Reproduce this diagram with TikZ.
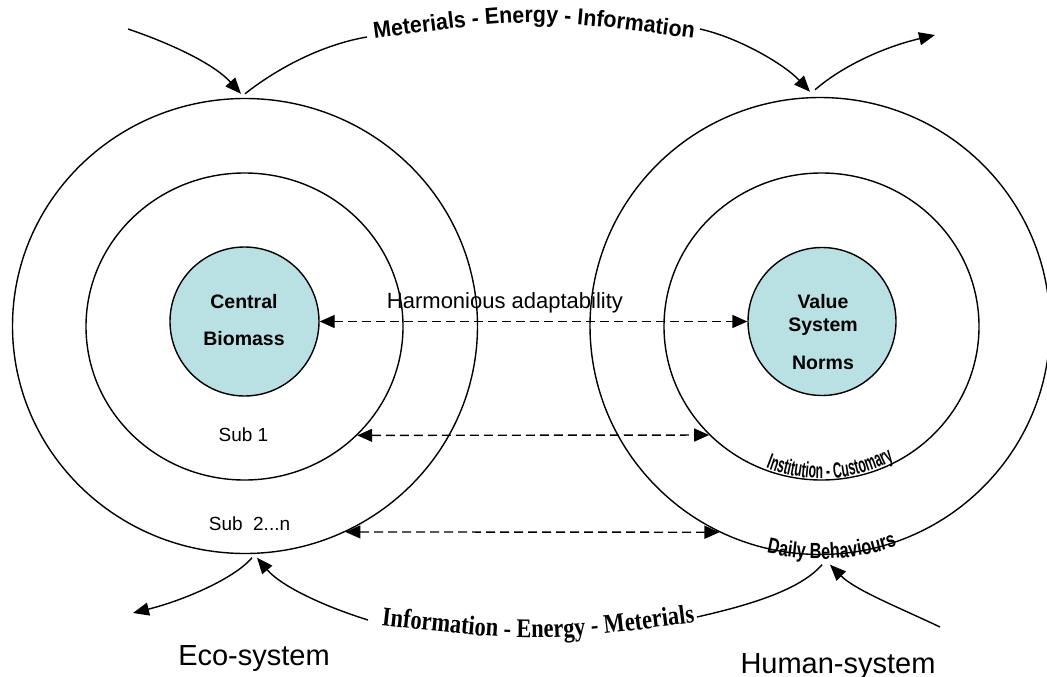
\documentclass[tikz,border=0pt]{standalone}
\usepackage{fontspec}
\setmainfont{Liberation Sans}
\newfontfamily\topfont{Liberation Sans}[FakeStretch=0.93]
\newfontfamily\botfont{Liberation Serif}[FakeStretch=0.83]
\newfontfamily\instfont{Liberation Sans}[FakeStretch=0.55]
\newfontfamily\dailyfont{Liberation Sans}[FakeStretch=0.74]
\usetikzlibrary{arrows.meta,shapes.geometric,decorations.text,calc}
\definecolor{coreblue}{RGB}{185,224,227}
\begin{document}
\begin{tikzpicture}[x=1pt,y=-1pt,
  ring/.style={draw,ellipse,line width=1.4pt,inner sep=0pt},
  core/.style={draw,circle,line width=1.4pt,fill=coreblue,inner sep=0pt},
  coretext/.style={font=\bfseries\fontsize{19.5}{23}\selectfont,align=center,inner sep=0pt},
  lbl/.style={anchor=base,inner sep=0pt},
  flow/.style={line width=1.4pt,-{Triangle[length=16pt,width=13pt]}},
  plainline/.style={line width=1.4pt},
  dasharrow/.style={line width=1.4pt,dash pattern=on 9pt off 5pt,
    {Triangle[length=15pt,width=13pt]}-{Triangle[length=15pt,width=13pt]}}]
\useasboundingbox (0,0) rectangle (1047,677);
% rings
\node[ring,minimum width=465pt,minimum height=455pt] (lout) at (245,326) {};
\node[ring,minimum width=317pt,minimum height=307pt] (lmid) at (244.5,326.5) {};
\node[core,minimum size=149pt] (lin) at (244.5,321.5) {};
\node[ring,minimum width=460pt,minimum height=457pt] (rout) at (820,326) {};
\node[ring,minimum width=315pt,minimum height=307pt] (rmid) at (821.5,326.5) {};
\node[core,minimum size=148pt] (rin) at (822,321.5) {};
% core texts
\node[coretext] (tcen) at (244,320.5) {Central\\[14pt]Biomass};
\node[coretext] (tval) at (823,332.5) {Value\\System\\[15pt]Norms};
% labels
\node[lbl,font=\fontsize{22}{26}\selectfont] (harm) at (505,308) {Harmonious adaptability};
\node[lbl,font=\fontsize{19}{23}\selectfont] (sub1) at (243.5,441.5) {Sub 1};
\node[lbl,font=\fontsize{19}{23}\selectfont] (sub2) at (249.5,530) {Sub\ \ 2...n};
\node[lbl,font=\fontsize{29}{34}\selectfont] (eco) at (254,665) {Eco-system};
\node[lbl,font=\fontsize{29}{34}\selectfont] (hum) at (838,673) {Human-system};
% dashed links
\draw[dasharrow] (lin.east) -- (rin.west);
\draw[dasharrow] (lmid.-44) -- (rmid.224);
\draw[dasharrow] (lout.-64) -- (rout.244);
% curved texts
\path[decorate,decoration={text along path,text align=center,
  text={|\topfont\bfseries\fontsize{23}{23}\selectfont|Meterials - Energy - Information}}]
  (363,40) .. controls (534,17) .. (705,40);
\path[decorate,decoration={text along path,text align=center,
  text={|\botfont\bfseries\fontsize{27}{27}\selectfont|Information - Energy - Meterials}}]
  (370,624) .. controls (538,643) .. (706,621);
\path[decorate,decoration={text along path,text align=center,
  text={|\instfont\bfseries\fontsize{22}{22}\selectfont|Institution - Customary}}]
  ($(rmid.center)+(243.5:152pt)$) arc[start angle=243.5,end angle=303.5,radius=152pt];
\path[decorate,decoration={text along path,text align=center,
  text={|\dailyfont\bfseries\fontsize{22}{22}\selectfont|Daily Behaviours}}]
  ($(rout.center)+(240:233pt)$) arc[start angle=240,end angle=306,radius=233pt];
% free ends
\coordinate (tlA) at (128,29);
\coordinate (tTextL) at (367,37);
\coordinate (tTextR) at (700,29);
\coordinate (trB) at (935,35);
\coordinate (blB) at (133,613);
\coordinate (bTextL) at (368,620);
\coordinate (bTextR) at (697,617);
\coordinate (brA) at (940,627);
% top flows
\draw[flow] (tlA) .. controls (175,45) and (215,65) .. ([shift={(-4,-4)}]lout.north);
\draw[plainline] ([shift={(0,-4)}]lout.north) .. controls (275,70) and (320,45) .. (tTextL);
\draw[flow] (tTextR) .. controls (740,38) and (785,65) .. ([shift={(-10,-5)}]rout.north);
\draw[flow] ([shift={(-5,-7)}]rout.north) .. controls (840,68) and (880,48) .. (trB);
% bottom flows
\draw[flow] ([shift={(7,3.5)}]lout.south) .. controls (235,578) and (185,600) .. (blB);
\draw[flow] (bTextL) .. controls (320,605) and (280,585) .. ([shift={(12,3.5)}]lout.south);
\draw[plainline] (bTextR) .. controls (750,605) and (800,590) .. ([shift={(2,9.5)}]rout.south);
\draw[flow] (brA) .. controls (900,608) and (855,590) .. ([shift={(10,9.5)}]rout.south);
\end{tikzpicture}
\end{document}
